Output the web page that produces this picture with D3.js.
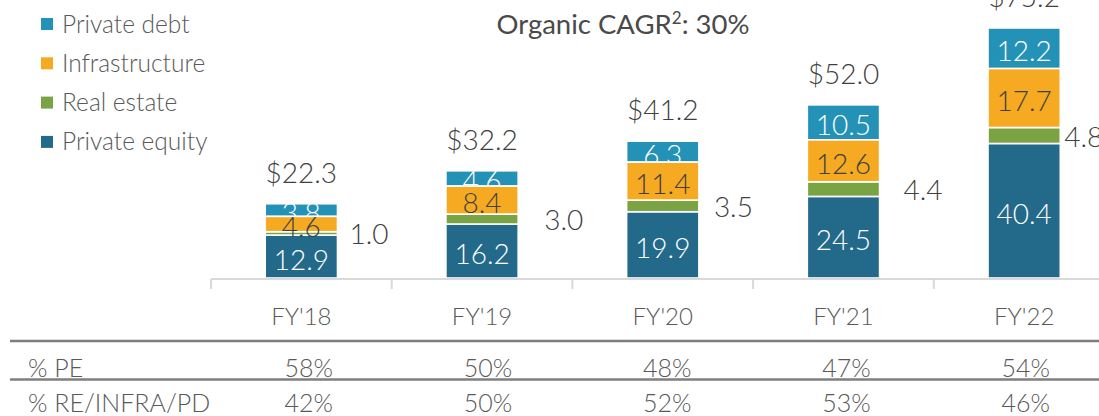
<!DOCTYPE html>
<html>
<head>
<meta charset="utf-8">
<script src="https://cdn.jsdelivr.net/npm/d3@7"></script>
<style>
  html, body { margin: 0; padding: 0; background: #fff; }
  svg { display: block; }
  text { font-family: Lato, "Open Sans", sans-serif; }
</style>
</head>
<body>
<svg id="chart" width="1099" height="416"></svg>
<script>
// ---- data ----
const categories = ["FY'18", "FY'19", "FY'20", "FY'21", "FY'22"];
const privateEquity = [12.9, 16.2, 19.9, 24.5, 40.4];
const realEstate = [1.0, 3.0, 3.5, 4.4, 4.8];
const infrastructure = [4.6, 8.4, 11.4, 12.6, 17.7];
const privateDebt = [3.8, 4.6, 6.3, 10.5, 12.2];
const totals = ["$22.3", "$32.2", "$41.2", "$52.0", "$75.2"];
const pctPE = ["58%", "50%", "48%", "47%", "54%"];
const pctOther = ["42%", "50%", "52%", "53%", "46%"];
const rowLabels = ["% PE", "% RE/INFRA/PD"];
const legendLabels = ["Private debt", "Infrastructure", "Real estate", "Private equity"];
const titleMain = "Organic CAGR";
const titleSup = "2";
const titleTail = ": 30%";

// ---- layout / style (not data) ----
const colors = { pe: "#22698A", re: "#7AA443", infra: "#F6AA22", pd: "#2491B7" };
const reLabelGap = [12, 26, 15, 24, 4];
const darkText = "#404040", grayText = "#595959";

const svg = d3.select("#chart");

const x = d3.scaleBand().domain(categories).range([211, 1114.5]).paddingInner(0.6).paddingOuter(0.3);
const y = d3.scaleLinear().domain([0, 83.5]).range([278, 0]);

const series = [
  { key: "pe", values: privateEquity },
  { key: "re", values: realEstate },
  { key: "infra", values: infrastructure },
  { key: "pd", values: privateDebt }
];
const stackData = categories.map((c, i) => {
  const o = { cat: c };
  series.forEach(s => o[s.key] = s.values[i]);
  return o;
});
const stack = d3.stack().keys(series.map(s => s.key))(stackData);
const layerByKey = {};
stack.forEach(l => layerByKey[l.key] = l);

const bw = x.bandwidth();
const valueFont = 28;

function drawLayer(key, labelColor, showLabel) {
  const g = svg.append("g");
  const layer = layerByKey[key];
  g.selectAll("rect").data(layer).join("rect")
    .attr("x", (d, i) => x(categories[i]))
    .attr("width", bw)
    .attr("y", d => y(d[1]))
    .attr("height", d => y(d[0]) - y(d[1]))
    .attr("fill", colors[key])
    .attr("stroke", "#fff")
    .attr("stroke-width", 1.6);
  if (showLabel) {
    g.selectAll("text").data(layer).join("text")
      .attr("x", (d, i) => x(categories[i]) + bw / 2)
      .attr("y", d => (y(d[0]) + y(d[1])) / 2 + 13)
      .attr("text-anchor", "middle")
      .attr("font-size", valueFont)
      .attr("font-weight", 300)
      .attr("fill", labelColor)
      .text(d => (d[1] - d[0]).toFixed(1));
  }
}
drawLayer("pe", "#fff", true);
drawLayer("re", "#fff", false);
drawLayer("pd", "#fff", true);
drawLayer("infra", darkText, true);

// real estate labels to the right
const reLayer = layerByKey["re"];
svg.append("g").selectAll("text").data(reLayer).join("text")
  .attr("x", (d, i) => x(categories[i]) + bw + reLabelGap[i])
  .attr("y", d => (y(d[0]) + y(d[1])) / 2 + 11)
  .attr("font-size", valueFont)
  .attr("font-weight", 300)
  .attr("fill", darkText)
  .text(d => (d[1] - d[0]).toFixed(1));

// totals
const topLayer = layerByKey["pd"];
svg.append("g").selectAll("text").data(topLayer).join("text")
  .attr("x", (d, i) => x(categories[i]) + bw / 2)
  .attr("y", d => y(d[1]) - 21)
  .attr("text-anchor", "middle")
  .attr("font-size", valueFont)
  .attr("font-weight", 300)
  .attr("fill", darkText)
  .text((d, i) => totals[i]);

// axis line + ticks at band boundaries
const gap = (x.step() - bw) / 2;
svg.append("line").attr("x1", 211).attr("x2", 1099).attr("y1", 279).attr("y2", 279)
  .attr("stroke", "#d9d9d9").attr("stroke-width", 2);
svg.append("g").selectAll("line").data(categories).join("line")
  .attr("x1", d => x(d) - gap).attr("x2", d => x(d) - gap)
  .attr("y1", 279).attr("y2", 289)
  .attr("stroke", "#d9d9d9").attr("stroke-width", 2);

// category labels
svg.append("g").selectAll("text").data(categories).join("text")
  .attr("x", d => x(d) + bw / 2)
  .attr("y", 325)
  .attr("text-anchor", "middle")
  .attr("font-size", 24)
  .attr("font-weight", 300)
  .attr("fill", grayText)
  .text(d => d);

// table
[341, 379.5].forEach(yy => {
  svg.append("line").attr("x1", 10).attr("x2", 1099).attr("y1", yy).attr("y2", yy)
    .attr("stroke", "#7f7f7f").attr("stroke-width", 2.5);
});
const col = d3.scaleLinear().domain([0, categories.length - 1]).range([333, 1050]);
const rows = [pctPE, pctOther];
const rowBase = [377, 412];
rows.forEach((r, ri) => {
  svg.append("text").attr("x", 28).attr("y", rowBase[ri])
    .attr("font-size", 25).attr("font-weight", 300).attr("fill", grayText)
    .text(rowLabels[ri]);
  svg.append("g").selectAll("text").data(r).join("text")
    .attr("x", (d, i) => col(i))
    .attr("y", rowBase[ri])
    .attr("text-anchor", "end")
    .attr("font-size", 25).attr("font-weight", 300).attr("fill", grayText)
    .text(d => d);
});

// legend
const legendColors = [colors.pd, colors.infra, colors.re, colors.pe];
const lg = svg.append("g").selectAll("g").data(legendLabels).join("g")
  .attr("transform", (d, i) => `translate(41, ${24 + i * 39.3})`);
lg.append("rect").attr("x", 0).attr("y", -6).attr("width", 12).attr("height", 12)
  .attr("fill", (d, i) => legendColors[i]);
lg.append("text").attr("x", 21).attr("y", 8.5)
  .attr("font-size", 24.5).attr("font-weight", 300).attr("fill", grayText)
  .text(d => d);

// title
const t = svg.append("text").attr("x", 623).attr("y", 34)
  .attr("text-anchor", "middle").attr("font-size", 27.5).attr("fill", "#4a4a4a");
t.append("tspan").text(titleMain);
t.append("tspan").attr("font-size", 17).attr("dy", -10).text(titleSup);
t.append("tspan").attr("dy", 10).text(titleTail);
</script>
</body>
</html>
